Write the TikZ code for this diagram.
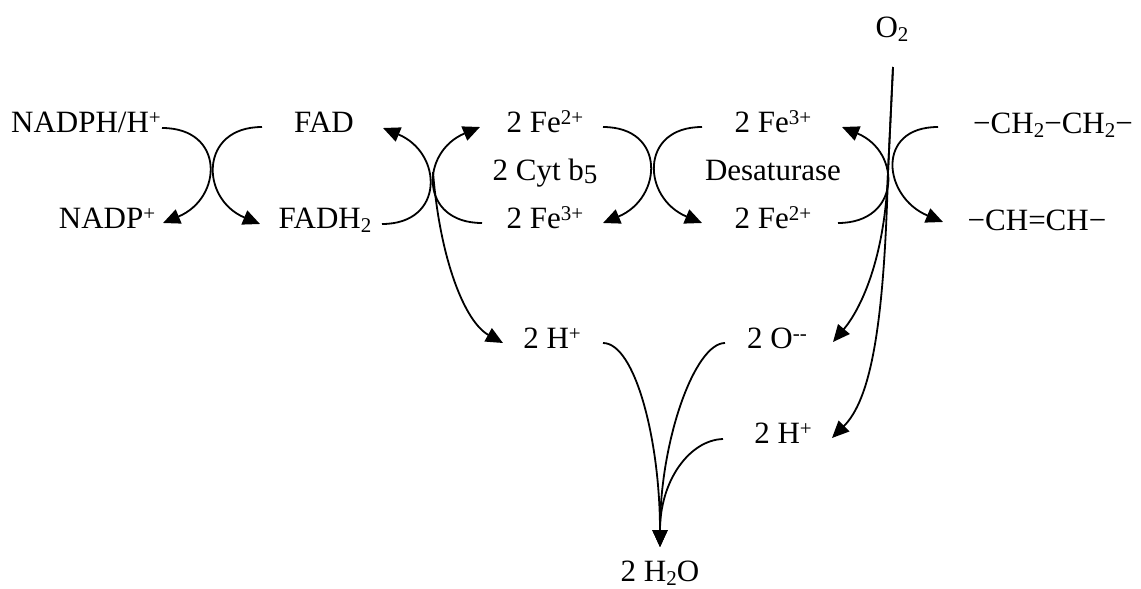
\documentclass[tikz,border=0pt]{standalone}
\usepackage{fontspec}
\setmainfont{Liberation Serif}
\usetikzlibrary{arrows.meta}
\newcommand\mysup[1]{\raisebox{8pt}{\fontsize{21}{21}\selectfont #1}}
\newcommand\mysub[1]{\raisebox{-4pt}{\fontsize{21}{21}\selectfont #1}}
\begin{document}
\begin{tikzpicture}[x=1pt,y=-1pt,
  lbl/.style={font=\fontsize{31}{37}\selectfont, inner sep=0pt, anchor=base},
  rx/.style={line width=1.8pt, -{Triangle[length=17pt,width=15pt]}}]
\path[use as bounding box] (0,0) rectangle (1141,589);
% labels
\node[lbl] (nadph) at (86,132) {NADPH/H\mysup{+}};
\node[lbl] (fad) at (324,132) {FAD};
\node[lbl] (fe2a) at (545,132) {2 Fe\mysup{2+}};
\node[lbl] (fe3b) at (773,132) {2 Fe\mysup{3+}};
\node[lbl] (ch2) at (1053,133) {−CH\mysub{2}−CH\mysub{2}−};
\node[lbl] (cyt) at (545,180) {2 Cyt b\raisebox{-3pt}{\fontsize{27}{27}\selectfont 5}};
\node[lbl] (desat) at (773,180) {Desaturase};
\node[lbl] (nadp) at (107,228) {NADP\mysup{+}};
\node[lbl] (fadh) at (325,228) {FADH\mysub{2}};
\node[lbl] (fe3a) at (545,228) {2 Fe\mysup{3+}};
\node[lbl] (fe2b) at (773,228) {2 Fe\mysup{2+}};
\node[lbl] (chch) at (1037,230) {−CH=CH−};
\node[lbl] (ha) at (552,348) {2 H\mysup{+}};
\node[lbl] (oo) at (777,348) {2 O\mysup{-{}-}};
\node[lbl] (hb) at (783,443) {2 H\mysup{+}};
\node[lbl] (water) at (660,581) {2 H\mysub{2}O};
\node[lbl] (o2) at (892,37) {O\mysub{2}};
% connector ends
\coordinate (a1s) at (162,128); \coordinate (a1e) at (163,223);
\coordinate (a2s) at (262,127); \coordinate (a2e) at (260,224);
\coordinate (a3s) at (382,224); \coordinate (a3e) at (383,128);
\coordinate (a4s) at (482,223); \coordinate (a4e) at (480,127);
\coordinate (a5s) at (603,127); \coordinate (a5e) at (603,223);
\coordinate (a6s) at (702,127); \coordinate (a6e) at (702,223);
\coordinate (a7s) at (838,223); \coordinate (a7e) at (842,127);
\coordinate (a8s) at (938,127); \coordinate (a8e) at (943,222);
\coordinate (x1) at (433,172);
\coordinate (o2s) at (893,67); \coordinate (o2m) at (888,172);
\coordinate (hae) at (503,343);
\coordinate (has) at (603,343);
\coordinate (oos) at (725,343);
\coordinate (ooe) at (833,342);
\coordinate (hbs) at (723,439);
\coordinate (hbe) at (832,438);
\coordinate (tip) at (660,547);
% arcs
\draw[rx] (a1s) .. controls +(63,0) and +(60,-25) .. (a1e);
\draw[rx] (a2s) .. controls +(-63,0) and +(-60,-25) .. (a2e);
\draw[rx] (a3s) .. controls +(63,0) and +(60,25) .. (a3e);
\draw[rx] (a4s) .. controls +(-63,0) and +(-60,25) .. (a4e);
\draw[rx] (a5s) .. controls +(63,0) and +(60,-25) .. (a5e);
\draw[rx] (a6s) .. controls +(-63,0) and +(-60,-25) .. (a6e);
\draw[rx] (a7s) .. controls +(63,0) and +(60,25) .. (a7e);
\draw[rx] (a8s) .. controls +(-63,0) and +(-60,-25) .. (a8e);
% downward branches
\draw[rx] (x1) .. controls (440,260) and (465,322) .. (hae);
\draw[rx] (o2s) -- (o2m) .. controls (885,260) and (860,310) .. (ooe);
\draw[rx] (o2s) -- (o2m) .. controls (884,330) and (870,400) .. (hbe);
\draw[rx] (has) .. controls (635,343) and (660,440) .. (tip);
\draw[rx] (oos) .. controls (695,343) and (660,440) .. (tip);
\draw[rx] (hbs) .. controls (690,440) and (660,480) .. (tip);
\end{tikzpicture}
\end{document}
